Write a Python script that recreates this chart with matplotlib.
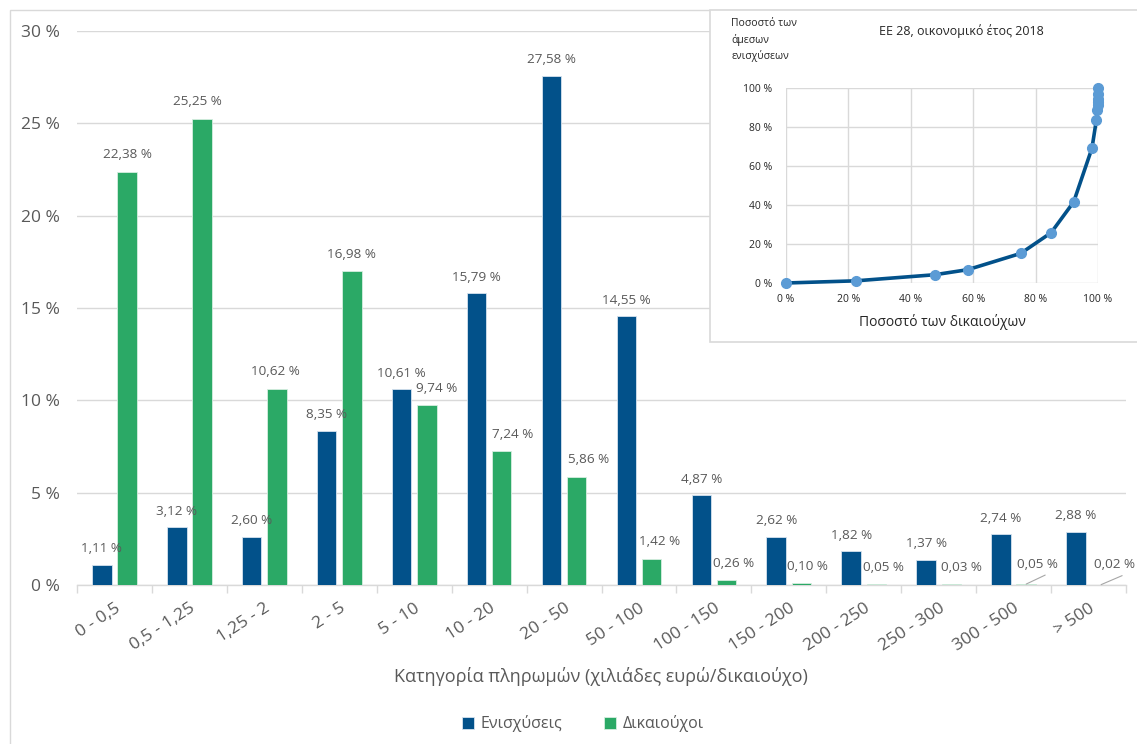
import matplotlib
matplotlib.use("Agg")
import matplotlib.pyplot as plt
from matplotlib.patches import Rectangle
import numpy as np

plt.rcParams['font.family'] = ['Open Sans', 'DejaVu Sans']

# ---------------- data ----------------
categories = ["0 - 0,5", "0,5 - 1,25", "1,25 - 2", "2 - 5", "5 - 10", "10 - 20", "20 - 50",
              "50 - 100", "100 - 150", "150 - 200", "200 - 250", "250 - 300", "300 - 500", "> 500"]
enisxyseis = [1.11, 3.12, 2.60, 8.35, 10.61, 15.79, 27.58, 14.55, 4.87, 2.62, 1.82, 1.37, 2.74, 2.88]
dikaiouxoi = [22.38, 25.25, 10.62, 16.98, 9.74, 7.24, 5.86, 1.42, 0.26, 0.10, 0.05, 0.03, 0.05, 0.02]
series_names = ["Ενισχύσεις", "Δικαιούχοι"]

yticks = [0, 5, 10, 15, 20, 25, 30]

# Lorenz curve (inset) values
lorenz_x = [0, 22.38, 47.63, 58.25, 75.23, 84.97, 92.21, 98.07, 99.49, 99.75, 99.85, 99.90, 99.93, 99.98, 100.00]
lorenz_y = [0, 1.11, 4.23, 6.83, 15.18, 25.79, 41.58, 69.16, 83.71, 88.58, 91.20, 93.02, 94.39, 97.13, 100.00]
inset_ticks = [0, 20, 40, 60, 80, 100]

# label horizontal shifts for green labels (pixels) and raised ones with leader lines
green_dx = [0, -5, -2, 0, 10, 11, 12, 8, 7, 6, 7, 10, 11, 13]
green_leader = [False] * 12 + [True, True]

BLUE = '#02518A'
GREEN = '#2BA966'
GRID = '#D9D9D9'
TXT = '#595959'

W, H = 1137, 744
fig = plt.figure(figsize=(W / 100, H / 100), dpi=100)

def fx(px):
    return px / W

def fy(py):
    return 1 - py / H

# outer border
fig.patches.append(Rectangle((fx(10), fy(760)), fx(1150) - fx(10), fy(10) - fy(760),
                             transform=fig.transFigure, fill=False, edgecolor=GRID, lw=1, zorder=1))

ax = fig.add_axes([fx(77), fy(585), fx(1126) - fx(77), fy(31) - fy(585)])
x = np.arange(len(categories))
w = 0.26
off = 0.168
b1 = ax.bar(x - off, enisxyseis, w, color=BLUE, edgecolor='#d6e2ee', lw=0.6, zorder=3)
b2 = ax.bar(x + off, dikaiouxoi, w, color=GREEN, edgecolor='#d6eee0', lw=0.6, zorder=3)

def fmt(v):
    return f"{v:.2f}".replace('.', ',') + " %"

for xi, v in zip(x, enisxyseis):
    ax.annotate(fmt(v), (xi - off, v), xytext=(0, 16), textcoords='offset pixels',
                ha='center', va='center', fontsize=9.7, color=TXT, zorder=4)
for xi, v, dx, lead in zip(x, dikaiouxoi, green_dx, green_leader):
    if lead:
        ax.annotate(fmt(v), (xi + off, v), xytext=(dx, 20), textcoords='offset pixels',
                    ha='center', va='center', fontsize=9.7, color=TXT, zorder=4)
        ax.annotate('', (xi + off, v), xytext=(dx + 8, 9), textcoords='offset pixels',
                    arrowprops=dict(arrowstyle='-', color='#A6A6A6', lw=0.8, shrinkA=0, shrinkB=0),
                    zorder=4)
    else:
        ax.annotate(fmt(v), (xi + off, v), xytext=(dx, 17), textcoords='offset pixels',
                    ha='center', va='center', fontsize=9.7, color=TXT, zorder=4)

ax.set_xlim(-0.5, len(categories) - 0.5)
ax.set_ylim(0, 30)
ax.set_yticks(yticks)
ax.set_yticklabels([f"{t} %" for t in yticks], fontsize=12.5, color=TXT)
ax.tick_params(axis='y', length=0, pad=12)
ax.set_xticks(x)
ax.set_xticklabels(categories, fontsize=12.5, color=TXT, rotation=33, ha='right',
                   rotation_mode='anchor')
ax.set_xticks(np.arange(-0.5, len(categories), 1), minor=True)
ax.tick_params(axis='x', which='major', length=0, pad=11)
ax.tick_params(axis='x', which='minor', length=6, color=GRID, width=1)
ax.yaxis.grid(True, color=GRID, lw=1, zorder=0)
ax.set_axisbelow(True)
for s in ['top', 'right', 'left']:
    ax.spines[s].set_visible(False)
ax.spines['bottom'].set_color(GRID)
ax.spines['bottom'].set_linewidth(1)
ax.set_facecolor('none')

fig.text(fx(601), fy(676), "Κατηγορία πληρωμών (χιλιάδες ευρώ/δικαιούχο)", ha='center', va='center',
         fontsize=13, color=TXT)

# legend
leg = fig.legend([b1, b2], series_names, loc='center', bbox_to_anchor=(fx(583), fy(724)),
                 ncol=2, frameon=False, fontsize=11.5, handlelength=0.75, handleheight=0.75,
                 columnspacing=2.6, handletextpad=0.4, labelcolor=TXT)

# inset box
fig.patches.append(Rectangle((fx(710), fy(342)), fx(1140) - fx(710), fy(10) - fy(342),
                             transform=fig.transFigure, facecolor='white', edgecolor=GRID,
                             lw=1.2, zorder=5))

ia = fig.add_axes([fx(786), fy(283), fx(1098) - fx(786), fy(88) - fy(283)], zorder=10)
ia.set_facecolor('none')
ia.plot(lorenz_x, lorenz_y, color=BLUE, lw=2.6, zorder=3, clip_on=False)
ia.plot(lorenz_x, lorenz_y, ls='none', marker='o', ms=7, color='#5B9BD5', zorder=4, clip_on=False)
ia.set_xlim(0, 100)
ia.set_ylim(0, 100)
ia.set_xticks(inset_ticks)
ia.set_yticks(inset_ticks)
ia.set_xticklabels([f"{t} %" for t in inset_ticks], fontsize=7.5, color='#262626')
ia.set_yticklabels([f"{t} %" for t in inset_ticks], fontsize=7.5, color='#262626')
ia.tick_params(length=0)
ia.tick_params(axis='y', pad=10)
ia.tick_params(axis='x', pad=8)
ia.grid(True, color=GRID, lw=1, zorder=0)
ia.set_axisbelow(True)
for s in ia.spines.values():
    s.set_visible(False)

fig.text(fx(961), fy(31), "ΕΕ 28, οικονομικό έτος 2018", ha='center', va='center', fontsize=9,
         color='#262626', zorder=11)
fig.text(fx(731), fy(40), "Ποσοστό των\nάμεσων\nενισχύσεων", ha='left', va='center', fontsize=7.5,
         color='#262626', linespacing=1.45, zorder=11)
fig.text(fx(942), fy(322), "Ποσοστό των δικαιούχων", ha='center', va='center', fontsize=10,
         color='#262626', zorder=11)

fig.savefig("out.png", dpi=100, facecolor='white')
